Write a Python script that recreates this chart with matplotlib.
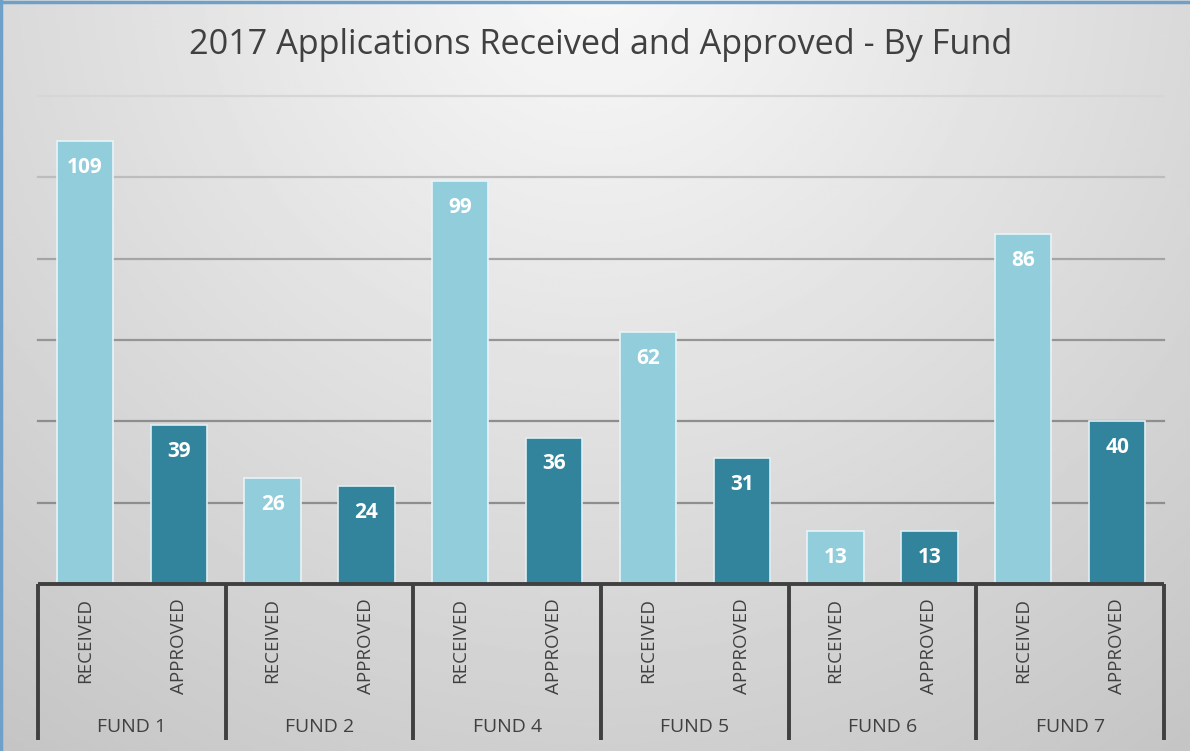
import numpy as np
import matplotlib.pyplot as plt

# Данные
funds = ['FUND 1', 'FUND 2', 'FUND 4', 'FUND 5', 'FUND 6', 'FUND 7']
received = [109, 26, 99, 62, 13, 86]
approved = [39, 24, 36, 31, 13, 40]
sub_labels = ['RECEIVED', 'APPROVED']
title = '2017 Applications Received and Approved - By Fund'

c_recv = '#92CDDC'
c_appr = '#31849B'
font = 'Open Sans'

fig = plt.figure(figsize=(11.9, 7.51), dpi=100)

# Фон с градиентом
bg = fig.add_axes([0, 0, 1, 1], zorder=-10)
h, w = 300, 475
yy, xx = np.mgrid[0:1:h * 1j, 0:1:w * 1j]
d = np.sqrt(((xx - 0.5) * 1.58) ** 2 + (yy + 0.05) ** 2)
vals = np.clip(249 - 40 * d, 180, 250) / 255.0
bg.imshow(vals, cmap='gray', vmin=0, vmax=1, aspect='auto', extent=[0, 1, 0, 1], origin='upper')
bg.plot([0.001, 0.001], [0, 1], color='#6FA0C8', lw=2.5, transform=bg.transAxes)
bg.plot([0, 1], [0.998, 0.998], color='#6FA0C8', lw=2.5, transform=bg.transAxes)
bg.set_xlim(0, 1)
bg.set_ylim(0, 1)
bg.axis('off')

ax = fig.add_axes([38 / 1190, 167 / 751, 1126 / 1190, 488 / 751])
ax.patch.set_alpha(0)

x_r = np.arange(len(funds)) * 2
x_a = x_r + 1
ax.bar(x_r, received, width=0.6, color=c_recv, edgecolor='#E8F4F8', linewidth=1.2, zorder=3)
ax.bar(x_a, approved, width=0.6, color=c_appr, edgecolor='#E0EEF2', linewidth=1.2, zorder=3)

ax.set_xlim(-0.5, len(funds) * 2 - 0.5)
ax.set_ylim(0, 120)

# Линии сетки
grid_levels = [20, 40, 60, 80, 100, 120]
grid_colors = ['#8E8E8E', '#8E8E8E', '#959595', '#A5A5A5', '#BDBDBD', '#D6D6D6']
for lvl, gc in zip(grid_levels, grid_colors):
    ax.axhline(lvl, color=gc, lw=1.6, zorder=1, clip_on=False)

for s in ax.spines.values():
    s.set_visible(False)
ax.set_xticks([])
ax.set_yticks([])

# Подписи значений
for xs, ys in [(x_r, received), (x_a, approved)]:
    for xv, yv in zip(xs, ys):
        ax.annotate(str(yv), (xv, yv), xytext=(0, -19), textcoords='offset points',
                    ha='center', va='center', color='white', fontsize=15,
                    fontweight='bold', family=font, zorder=4)

# Двухуровневая ось категорий
tr = ax.get_xaxis_transform()
ax.plot([-0.5, len(funds) * 2 - 0.5], [0, 0], color='#404040', lw=2.8, transform=tr,
        clip_on=False, zorder=5, solid_capstyle='butt')
for i in range(len(funds) + 1):
    xb = i * 2 - 0.5
    ax.plot([xb, xb], [0, -0.3197], color='#404040', lw=2.8, transform=tr,
            clip_on=False, zorder=5, solid_capstyle='butt')

for i, f in enumerate(funds):
    for j, lab in enumerate(sub_labels):
        ax.text(i * 2 + j, -0.0287, lab, rotation=90, ha='center', va='top',
                transform=tr, fontsize=13.5, color='#404040', family=font)
    ax.text(i * 2 + 0.5, -0.293, f, ha='center', va='center', transform=tr,
            fontsize=14, color='#404040', family=font)

fig.text(601 / 1190, 1 - 45 / 751, title, ha='center', va='center',
         fontsize=24.7, color='#404040', family=font)

fig.savefig('out.png', dpi=100)
